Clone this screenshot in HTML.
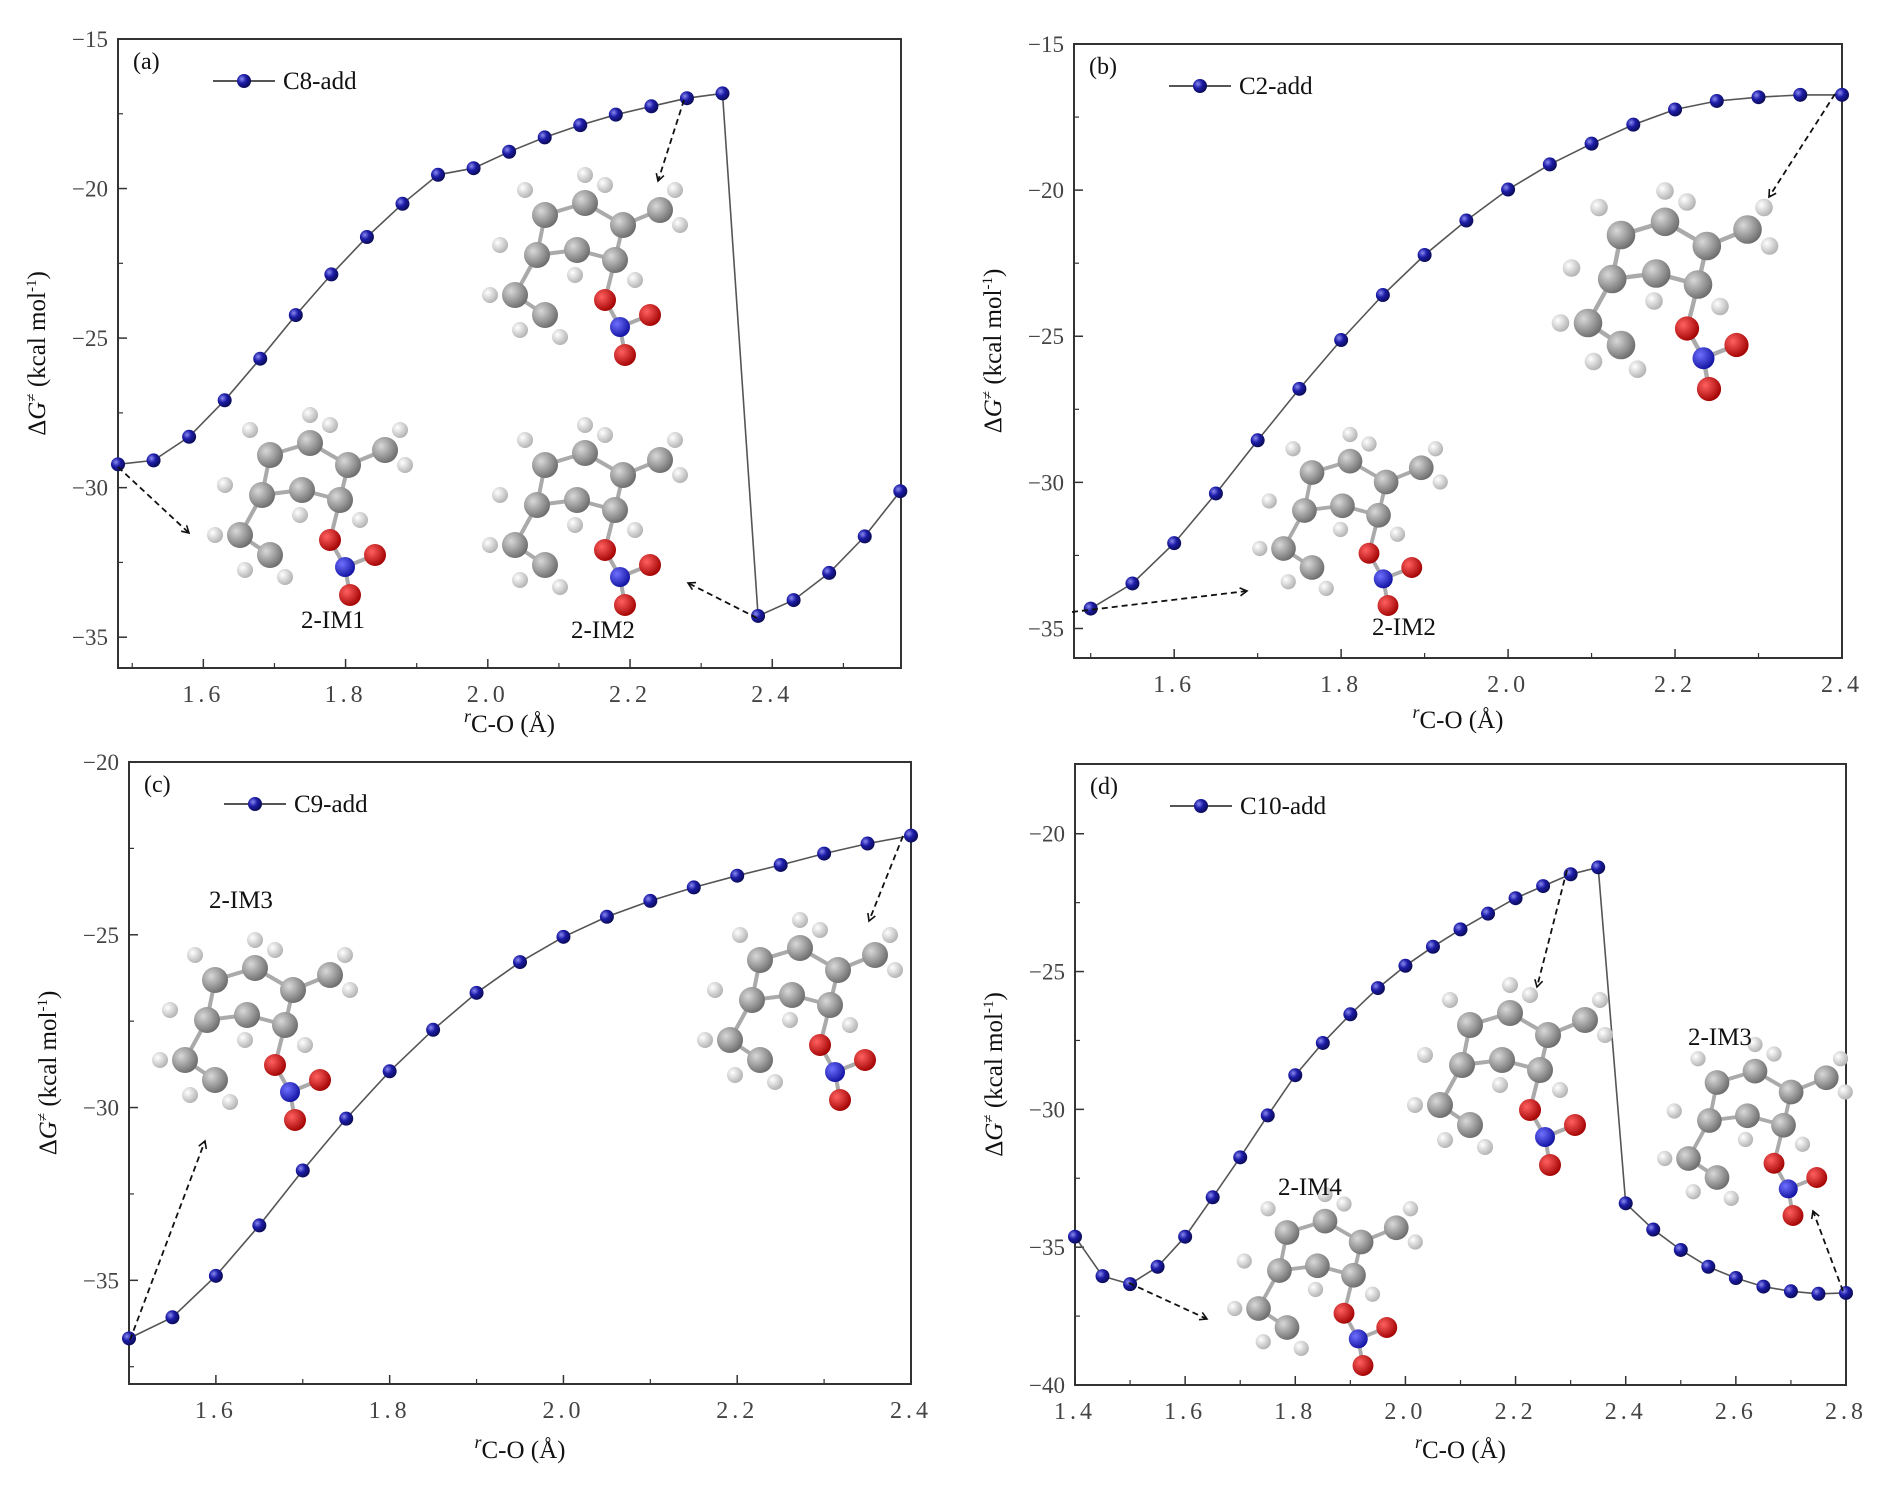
<!DOCTYPE html>
<html><head><meta charset="utf-8"><style>
html,body{margin:0;padding:0;background:#fff}
svg{display:block}
text{font-family:"Liberation Serif",serif}
</style></head><body>
<svg id="fig" width="1892" height="1490" viewBox="0 0 1892 1490" xmlns="http://www.w3.org/2000/svg">
<defs>
<radialGradient id="ball" cx="0.35" cy="0.35" r="0.7"><stop offset="0" stop-color="#8a8af0"/><stop offset="0.45" stop-color="#1c1ca8"/><stop offset="1" stop-color="#0a0a50"/></radialGradient>
<radialGradient id="gC" cx="0.35" cy="0.35" r="0.7"><stop offset="0" stop-color="#d8d8d8"/><stop offset="1" stop-color="#6a6a6a"/></radialGradient>
<radialGradient id="gH" cx="0.35" cy="0.35" r="0.7"><stop offset="0" stop-color="#ffffff"/><stop offset="1" stop-color="#b0b0b0"/></radialGradient>
<radialGradient id="gO" cx="0.35" cy="0.35" r="0.7"><stop offset="0" stop-color="#ff6060"/><stop offset="1" stop-color="#a00000"/></radialGradient>
<radialGradient id="gN" cx="0.35" cy="0.35" r="0.7"><stop offset="0" stop-color="#7070ff"/><stop offset="1" stop-color="#1010a0"/></radialGradient>
<marker id="arr" markerWidth="10" markerHeight="10" refX="8" refY="5" orient="auto" markerUnits="userSpaceOnUse"><path d="M1,1 L8,5 L1,9" fill="none" stroke="#111" stroke-width="1.6"/></marker>
</defs>
</svg>
<script>
// ---------- data ----------
const xA = [1.48,1.53,1.58,1.63,1.68,1.73,1.78,1.83,1.88,1.93,1.98,2.03,2.08,2.13,2.18,2.23,2.28,2.33,2.38,2.43,2.48,2.53,2.58];
const yA = [-29.22,-29.09,-28.30,-27.08,-25.69,-24.23,-22.87,-21.62,-20.51,-19.54,-19.32,-18.77,-18.29,-17.88,-17.53,-17.25,-16.98,-16.82,-34.29,-33.76,-32.85,-31.63,-30.12];
const xB = [1.50,1.55,1.60,1.65,1.70,1.75,1.80,1.85,1.90,1.95,2.00,2.05,2.10,2.15,2.20,2.25,2.30,2.35,2.40];
const yB = [-34.32,-33.46,-32.08,-30.38,-28.56,-26.80,-25.13,-23.59,-22.22,-21.04,-19.98,-19.12,-18.41,-17.76,-17.24,-16.95,-16.82,-16.74,-16.74];
const xC = [1.50,1.55,1.60,1.65,1.70,1.75,1.80,1.85,1.90,1.95,2.00,2.05,2.10,2.15,2.20,2.25,2.30,2.35,2.40];
const yC = [-36.68,-36.07,-34.87,-33.41,-31.82,-30.32,-28.95,-27.75,-26.68,-25.79,-25.06,-24.48,-24.02,-23.63,-23.29,-22.98,-22.65,-22.36,-22.13];
const xD = [1.40,1.45,1.50,1.55,1.60,1.65,1.70,1.75,1.80,1.85,1.90,1.95,2.00,2.05,2.10,2.15,2.20,2.25,2.30,2.35,2.40,2.45,2.50,2.55,2.60,2.65,2.70,2.75,2.80];
const yD = [-34.62,-36.05,-36.34,-35.71,-34.62,-33.19,-31.74,-30.22,-28.76,-27.59,-26.55,-25.60,-24.79,-24.10,-23.47,-22.90,-22.34,-21.90,-21.47,-21.22,-33.41,-34.36,-35.10,-35.71,-36.12,-36.43,-36.60,-36.69,-36.66];
const xTicksA = [1.6,1.8,2.0,2.2,2.4];
const xTicksB = [1.6,1.8,2.0,2.2,2.4];
const xTicksC = [1.6,1.8,2.0,2.2,2.4];
const xTicksD = [1.4,1.6,1.8,2.0,2.2,2.4,2.6,2.8];
const yTicksA = [-15,-20,-25,-30,-35];
const yTicksB = [-15,-20,-25,-30,-35];
const yTicksC = [-20,-25,-30,-35];
const yTicksD = [-20,-25,-30,-35,-40];
const seriesNames = ["C8-add","C2-add","C9-add","C10-add"];

const NS="http://www.w3.org/2000/svg";
const svg=document.getElementById('fig');
function mk(tag,attrs,parent){const e=document.createElementNS(NS,tag);for(const k in attrs)e.setAttribute(k,attrs[k]);(parent||svg).appendChild(e);return e;}

const panels=[
 {id:'a',L:118,T:39,R:901,B:668,x0:1.48,x1:2.581,y0:-36.03,y1:-15,xs:xA,ys:yA,xt:xTicksA,yt:yTicksA,name:seriesNames[0],xtitleY:732},
 {id:'b',L:1074,T:44,R:1842,B:658,x0:1.48,x1:2.40,y0:-36.01,y1:-15,xs:xB,ys:yB,xt:xTicksB,yt:yTicksB,name:seriesNames[1],xtitleY:728},
 {id:'c',L:129,T:762,R:911,B:1384,x0:1.50,x1:2.40,y0:-38.0,y1:-20,xs:xC,ys:yC,xt:xTicksC,yt:yTicksC,name:seriesNames[2],xtitleY:1458},
 {id:'d',L:1075,T:764,R:1846,B:1385,x0:1.40,x1:2.80,y0:-40,y1:-17.47,xs:xD,ys:yD,xt:xTicksD,yt:yTicksD,name:seriesNames[3],xtitleY:1458}
];

panels.forEach(p=>{
  const g=mk('g',{});
  
  
  const sx=v=>p.L+(v-p.x0)/(p.x1-p.x0)*(p.R-p.L);
  const sy=v=>p.B-(v-p.y0)/(p.y1-p.y0)*(p.B-p.T);
  const frame=mk('rect',{x:p.L,y:p.T,width:p.R-p.L,height:p.B-p.T,fill:'none',stroke:'#333',"stroke-width":2},g);
  
  
  const xg=mk('g',{},g);
  
  
  p.xt.forEach((v,i)=>{
    const x=sx(v);
    mk('line',{x1:x,y1:p.B,x2:x,y2:p.B-9,stroke:'#333',"stroke-width":1.5},xg);
    const xm=sx(v+0.1);
    if(xm<p.R-2) mk('line',{x1:xm,y1:p.B,x2:xm,y2:p.B-5,stroke:'#333',"stroke-width":1.2},xg);
    const xm2=sx(v-0.1);
    if(i==0 && xm2>p.L+2) mk('line',{x1:xm2,y1:p.B,x2:xm2,y2:p.B-5,stroke:'#333',"stroke-width":1.2},xg);
    const t=mk('text',{x:x,y:p.B+34,"text-anchor":"middle","font-size":24,fill:'#444',"letter-spacing":"4"},xg);
    t.textContent=v.toFixed(1);
    
    
  });
  const yg=mk('g',{},g);
  
  
  p.yt.forEach(v=>{
    const y=sy(v);
    mk('line',{x1:p.L,y1:y,x2:p.L+9,y2:y,stroke:'#333',"stroke-width":1.5},yg);
    const ym=sy(v-2.5);
    if(ym<p.B-2) mk('line',{x1:p.L,y1:ym,x2:p.L+5,y2:ym,stroke:'#333',"stroke-width":1.2},yg);
    const t=mk('text',{x:p.L-10,y:y+8,"text-anchor":"end","font-size":23,fill:'#444'},yg);
    t.textContent='\u2212'+Math.abs(v);
    
    
  });
  const yt=mk('text',{x:0,y:0,"font-size":25,fill:'#111',transform:`translate(${p.L-73},${(p.T+p.B)/2}) rotate(-90)`,"text-anchor":"middle"},g);
  yt.innerHTML='\u0394<tspan font-style="italic">G</tspan><tspan font-size="15" dy="-9">\u2260</tspan><tspan dy="9"> (kcal mol</tspan><tspan font-size="15" dy="-9">-1</tspan><tspan dy="9">)</tspan>';
  
  
  const xt=mk('text',{x:(p.L+p.R)/2,y:p.xtitleY,"font-size":25,fill:'#111',"text-anchor":"middle"},g);
  xt.innerHTML='<tspan font-style="italic" font-size="18" dy="-10">r</tspan><tspan dy="10">C-O (\u00c5)</tspan>';
  
  
  const pl=mk('text',{x:p.L+15,y:p.T+30,"font-size":24,fill:'#111'},g);
  pl.textContent='('+p.id+')';
  
  
  const lg=mk('g',{},g);
  
  
  const ly=p.T+42;
  mk('line',{x1:p.L+95,y1:ly,x2:p.L+157,y2:ly,stroke:'#555',"stroke-width":2},lg);
  mk('circle',{cx:p.L+126,cy:ly,r:7,fill:'url(#ball)'},lg);
  const lt=mk('text',{x:p.L+165,y:ly+8,"font-size":25,fill:'#111'},lg);
  lt.textContent=p.name;
  const sg=mk('g',{},g);
  
  
  const pts=p.xs.map((x,i)=>sx(x).toFixed(1)+','+sy(p.ys[i]).toFixed(1)).join(' ');
  const line=mk('polyline',{points:pts,fill:'none',stroke:'#555',"stroke-width":1.6},sg);
  
  
  p.xs.forEach((x,i)=>{
    const c=mk('circle',{cx:sx(x),cy:sy(p.ys[i]),r:7,fill:'url(#ball)'},sg);
    
    
  });
});

const tmpl=[
 ['C',-40,-50],['C',0,-62],['C',38,-40],['C',-48,-10],['C',-8,-15],['C',30,-5],['C',-70,30],['C',-40,50],['C',75,-55],
 ['H',-60,-75],['H',0,-90],['H',-85,-20],['H',20,-80],['H',-95,30],['H',-65,65],['H',-25,72],['H',95,-40],['H',90,-75],['H',50,15],['H',-10,10],
 ['O',20,35],['N',35,62],['O',65,50],['O',40,90]
];
const bonds=[[0,1],[1,2],[0,3],[3,4],[4,5],[5,2],[3,6],[6,7],[2,8],[5,20],[20,21],[21,22],[21,23]];
const cols={C:['url(#gC)',13],H:['url(#gH)',8],O:['url(#gO)',11],N:['url(#gN)',10]};
function molecule(cx,cy,s,name){
  const g=mk('g',{transform:`translate(${cx},${cy}) scale(${s})`});
  
  
  bonds.forEach(b=>{const a=tmpl[b[0]],c=tmpl[b[1]];mk('line',{x1:a[1],y1:a[2],x2:c[1],y2:c[2],stroke:'#aaa',"stroke-width":4},g);});
  tmpl.forEach(a=>mk('circle',{cx:a[1],cy:a[2],r:cols[a[0]][1],fill:cols[a[0]][0]},g));
}
molecule(585,265,1.0,'molecule-ts-a');
molecule(310,505,1.0,'molecule-2im1');
molecule(585,515,1.0,'molecule-2im2-a');
molecule(1665,290,1.1,'molecule-ts-b');
molecule(1350,520,0.95,'molecule-2im2-b');
molecule(255,1030,1.0,'molecule-2im3-c');
molecule(800,1010,1.0,'molecule-ts-c');
molecule(1510,1075,1.0,'molecule-ts-d');
molecule(1325,1280,0.95,'molecule-2im4');
molecule(1755,1130,0.95,'molecule-2im3-d');

const arrows=[[684,100,658,181],[118,467,189,533],[757,618,688,583],[1835,94,1769,197],[1072,612,1247,591],[130,1340,205,1141],[903,836,869,921],[1567,870,1537,987],[1129,1283,1207,1319],[1843,1291,1813,1211]];
arrows.forEach(a=>{
  const l=mk('line',{x1:a[0],y1:a[1],x2:a[2],y2:a[3],stroke:'#111',"stroke-width":1.8,"stroke-dasharray":"6,4","marker-end":"url(#arr)"});
  
  
});
const labs=[['2-IM1',333,628],['2-IM2',603,638],['2-IM2',1404,635],['2-IM3',241,908],['2-IM4',1310,1195],['2-IM3',1720,1045]];
labs.forEach(l=>{
  const t=mk('text',{x:l[1],y:l[2],"font-size":25,fill:'#111',"text-anchor":"middle"});
  t.textContent=l[0];
  
  
});
</script>
</body></html>
